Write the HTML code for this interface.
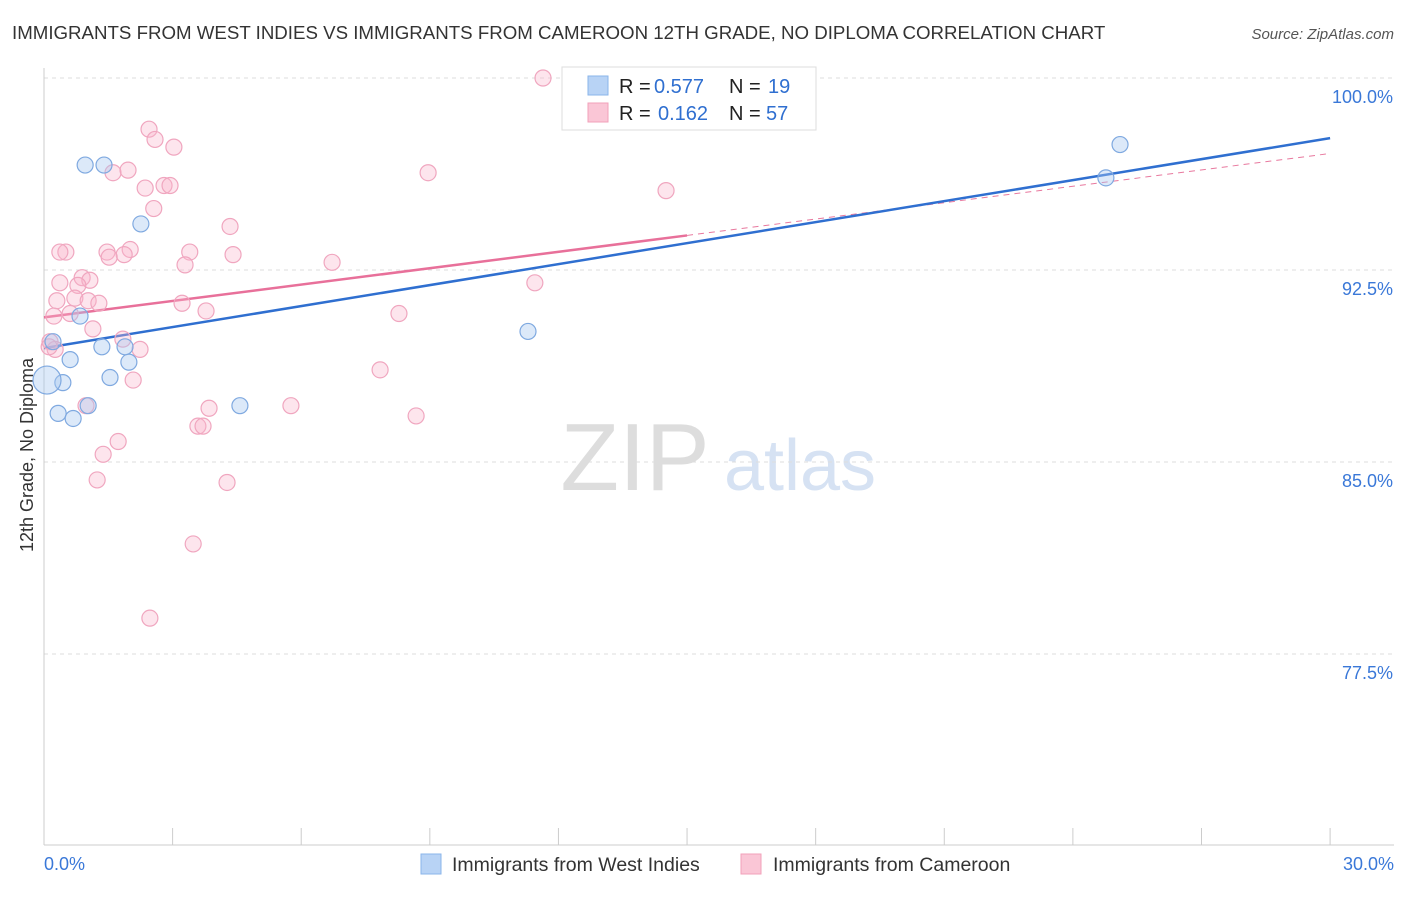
<!DOCTYPE html>
<html><head><meta charset="utf-8">
<style>
body{margin:0;background:#fff;font-family:"Liberation Sans",Arial,sans-serif;}
svg text{font-family:"Liberation Sans",Arial,sans-serif;}
</style></head>
<body>
<svg id="chart" width="1406" height="892" xmlns="http://www.w3.org/2000/svg">
<text x="12" y="39" font-size="18.7" fill="#333">IMMIGRANTS FROM WEST INDIES VS IMMIGRANTS FROM CAMEROON 12TH GRADE, NO DIPLOMA CORRELATION CHART</text>
<text x="1394" y="39" font-size="15" fill="#555" text-anchor="end" font-style="italic">Source: ZipAtlas.com</text>
<text x="33" y="455" font-size="18" fill="#333" text-anchor="middle" transform="rotate(-90 33 455)">12th Grade, No Diploma</text>
<g>
<text x="635" y="490" font-size="96" fill="#ddd" text-anchor="middle" font-family="Liberation Serif,serif">ZIP</text>
<text x="800" y="490" font-size="72" fill="#d6e2f3" text-anchor="middle">atlas</text>
</g>
<g id="grid"></g><g id="axes"></g><g id="lines"></g><g id="pts"></g>
<g>
<rect x="562" y="67" width="254" height="63" fill="#fff" stroke="#ddd"/>
<rect x="588" y="76" width="20" height="19" fill="#b8d3f5" stroke="#8ab4ea"/>
<rect x="588" y="103" width="20" height="19" fill="#fac6d6" stroke="#f2a0ba"/>
<text x="619" y="93" font-size="20" fill="#222">R =</text>
<text x="654" y="93" font-size="20" fill="#2f6fd0">0.577</text>
<text x="729" y="93" font-size="20" fill="#222">N =</text>
<text x="768" y="93" font-size="20" fill="#2f6fd0">19</text>
<text x="619" y="120" font-size="20" fill="#222">R =</text>
<text x="658" y="120" font-size="20" fill="#2f6fd0">0.162</text>
<text x="729" y="120" font-size="20" fill="#222">N =</text>
<text x="766" y="120" font-size="20" fill="#2f6fd0">57</text>
</g>
<g>
<rect x="421" y="854" width="20" height="20" fill="#b8d3f5" stroke="#8ab4ea"/>
<text x="452" y="871" font-size="19.5" fill="#333">Immigrants from West Indies</text>
<rect x="741" y="854" width="20" height="20" fill="#fac6d6" stroke="#f2a0ba"/>
<text x="773" y="871" font-size="19.5" fill="#333">Immigrants from Cameroon</text>
</g>
</svg>
<script>
const yTicks=[100,92.5,85,77.5];
const yTickLabels=["100.0%","92.5%","85.0%","77.5%"];
const xTickVals=[0,3,6,9,12,15,18,21,24,27,30];
const blueX=[0.96,1.4,2.26,0.84,0.21,1.35,1.89,0.61,1.98,0.44,1.54,0.07,0.33,0.68,1.03,4.57,11.29,24.77,25.1];
const blueY=[96.6,96.6,94.3,90.7,89.7,89.5,89.5,89.0,88.9,88.1,88.3,88.2,86.9,86.7,87.2,87.2,90.1,96.1,97.4];
const blueR=[8,8,8,8,8,8,8,8,8,8,8,14,8,8,8,8,8,8,8];
const pinkX=[11.64,2.45,2.59,3.03,1.61,1.96,8.96,2.36,2.8,2.94,14.51,2.56,4.34,0.51,1.47,2.01,1.87,1.52,3.4,4.41,3.29,6.72,0.89,1.07,0.37,0.79,11.45,0.3,0.72,1.03,1.28,3.22,3.78,0.61,0.23,8.28,1.14,1.84,0.14,0.26,2.24,7.84,2.08,5.76,3.85,0.98,8.68,3.59,3.71,1.73,1.38,1.24,4.27,3.48,2.47,0.12,0.37];
const pinkY=[100,98.0,97.6,97.3,96.3,96.4,96.3,95.7,95.8,95.8,95.6,94.9,94.2,93.2,93.2,93.3,93.1,93.0,93.2,93.1,92.7,92.8,92.2,92.1,92.0,91.9,92.0,91.3,91.4,91.3,91.2,91.2,90.9,90.8,90.7,90.8,90.2,89.8,89.7,89.4,89.4,88.6,88.2,87.2,87.1,87.2,86.8,86.4,86.4,85.8,85.3,84.3,84.2,81.8,78.9,89.5,93.2];
const blueLine=[[0,89.45],[30,97.65]];
const pinkSolid=[[0,90.65],[15,93.85]];
const pinkDash=[[15,93.85],[30,97.05]];
const X=v=>44+v*42.87, Y=v=>78+(100-v)*25.6;
const NS="http://www.w3.org/2000/svg";
function mk(p,t,a){const e=document.createElementNS(NS,t);for(const k in a)e.setAttribute(k,a[k]);p.appendChild(e);return e;}
const grid=document.getElementById('grid'),axes=document.getElementById('axes'),lines=document.getElementById('lines'),pts=document.getElementById('pts');
yTicks.forEach((v,i)=>{
 const g=mk(grid,'line',{x1:44,x2:1394,y1:Y(v),y2:Y(v),stroke:'#ddd','stroke-dasharray':'4 4'});
 
 
 const t=mk(axes,'text',{x:1393,y:Y(v)+25,'font-size':18,fill:'#3a78d8','text-anchor':'end'});t.textContent=yTickLabels[i];
 
 
});
const xa=mk(axes,'line',{x1:44,x2:1394,y1:845,y2:845,stroke:'#ccc'});


const ya=mk(axes,'line',{x1:44,x2:44,y1:68,y2:845,stroke:'#ccc'});


xTickVals.forEach(v=>{const t=mk(axes,'line',{x1:X(v),x2:X(v),y1:828,y2:845,stroke:'#ccc'});
 
 });
[[0,"0.0%","start",44],[30,"30.0%","end",1394]].forEach(a=>{const t=mk(axes,'text',{x:a[3],y:870,'font-size':18,fill:'#3a78d8','text-anchor':a[2]});t.textContent=a[1];
 
 });
function pl(d,c,dash,name){const l=mk(lines,'line',{x1:X(d[0][0]),y1:Y(d[0][1]),x2:X(d[1][0]),y2:Y(d[1][1]),stroke:c,'stroke-width':dash?1:2.5});
 if(dash)l.setAttribute('stroke-dasharray','6 5');
 
 }
pinkX.forEach((x,i)=>{const c=mk(pts,'circle',{cx:X(x),cy:Y(pinkY[i]),r:8,fill:'rgba(248,180,203,0.35)',stroke:'#f0a6bf','stroke-width':1.2});
 
 });
blueX.forEach((x,i)=>{const c=mk(pts,'circle',{cx:X(x),cy:Y(blueY[i]),r:blueR[i],fill:'rgba(168,200,240,0.4)',stroke:'#7fa9e0','stroke-width':1.2});
 
 });
pl(pinkDash,'#e8789e',true,'cameroon-trend-dashed');
pl(blueLine,'#2f6fd0',false,'west-indies-trend-line');
pl(pinkSolid,'#e8709a',false,'cameroon-trend-line');
</script>
</body></html>
